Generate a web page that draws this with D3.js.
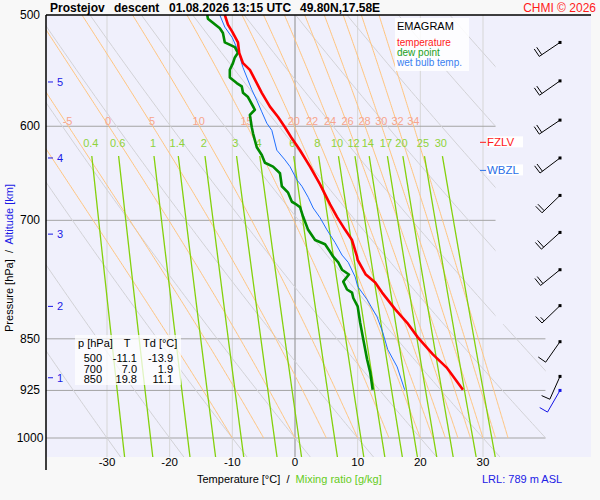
<!DOCTYPE html>
<html lang="cs">
<head>
<meta charset="UTF-8">
<title>Emagram Prostejov</title>
<script src="https://d3js.org/d3.v7.min.js"></script>
<style>
  body { margin: 0; background: #f8f8f8; }
  svg { display: block; font-family: Arial, "Liberation Sans", sans-serif; }
</style>
</head>
<body>
<div id="chart"></div>
<script>
// sounding values [pressure hPa, temperature °C]
const tempProfile = [
  [500, -11.2], [508, -10.7], [514, -10.0], [523, -9.1], [532, -8.9], [541, -8.3],
  [547, -7.2], [559, -6.1], [568, -5.3], [581, -4.0], [591, -2.7], [601, -1.6],
  [612, -0.5], [624, 0.8], [641, 2.4], [660, 4.0], [682, 5.6], [696, 6.7],
  [711, 8.0], [723, 9.1], [743, 9.9], [747, 10.0], [765, 11.3], [775, 12.8],
  [788, 13.9], [810, 16.0], [828, 17.9], [848, 19.6], [872, 22.0], [891, 24.2], [924, 26.8]
];
const dewProfile = [
  [500, -14.0], [503, -13.9], [506, -13.2], [511, -12.0], [515, -11.5], [523, -11.2],
  [527, -9.6], [532, -9.1], [536, -9.6], [541, -9.9], [547, -10.4], [554, -10.4],
  [559, -9.3], [562, -8.5], [568, -8.3], [572, -7.5], [584, -6.4], [589, -7.2],
  [601, -6.9], [607, -6.7], [621, -6.1], [629, -5.3], [637, -4.8], [641, -3.5],
  [648, -2.4], [662, -2.1], [669, -1.1], [679, -0.5], [681, 0.0], [685, 0.8],
  [696, 1.3], [711, 2.1], [723, 3.2], [728, 4.8], [737, 5.6], [743, 6.1],
  [750, 6.9], [759, 7.5], [765, 8.6], [774, 7.7], [784, 8.3], [788, 9.1],
  [795, 9.3], [806, 10.0], [828, 10.4], [851, 10.9], [879, 11.5], [898, 12.0], [924, 12.4]
];
const wetBulbProfile = [
  [500, -12.0], [510, -11.2], [519, -10.0], [530, -9.1], [545, -8.3], [565, -6.9],
  [575, -6.1], [586, -5.3], [597, -4.5], [604, -3.7], [624, -2.9], [634, -1.6],
  [641, -0.8], [655, 0.3], [662, 1.1], [674, 2.1], [686, 2.9], [697, 4.0],
  [711, 5.1], [726, 6.4], [741, 7.5], [750, 8.5], [768, 9.6], [780, 10.0],
  [797, 11.5], [820, 13.1], [841, 14.0], [865, 14.8], [890, 16.3], [924, 17.5]
];

// diagram background lines
const isobars = [600, 700, 850, 925, 1000];
const pressureTicks = [500, 600, 700, 850, 925, 1000];
const isotherms = [-30, -20, -10, 0, 10, 20, 30];
const dryAdiabats = d3.range(-30, 101, 10);             // theta at 1000 hPa [°C]
const pseudoAdiabats = [-10, -5, 0, 5, 10, 15, 20, 22, 24, 26, 28, 30, 32, 34];
const pseudoLabels = [-5, 0, 5, 10, 15, 20, 22, 24, 26, 28, 30, 32, 34];
const mixingRatios = [0.4, 0.6, 1, 1.4, 2, 3, 4, 6, 8, 10, 12, 14, 17, 20, 25, 30];

// altitude marks [km, hPa]
const altitudeKm = [1, 2, 3, 4, 5];
const altitudeP = [906, 806, 716, 632, 558];

// wind profile
const windP = [523, 557, 594, 632, 672, 714, 759, 805, 854, 904];
const windDir = [236, 235, 236, 233, 226, 228, 231, 226, 215, 204];
const windSpd = [20, 20, 20, 20, 20, 20, 20, 15, 10, 10];
const surfaceWind = { p: 925, dir: 210, spd: 10 };

// levels and table
const fzlvP = 616, wbzlP = 645;
const tableP = [500, 700, 850];
const tableT = [-11.1, 7.0, 19.8];
const tableTd = [-13.9, 1.9, 11.1];

const width = 600, height = 500;
const plot = { left: 46, right: 591, top: 15, bottom: 457 };

const x = d3.scaleLinear().domain([-30, 30]).range([107, 483]);
const y = d3.scaleLog().domain([500, 1000]).range([15, 438]);
const pBottom = y.invert(plot.bottom);

const svg = d3.select("#chart").append("svg").attr("width", width).attr("height", height);

svg.append("rect").attr("x", plot.left).attr("y", plot.top)
  .attr("width", plot.right - plot.left).attr("height", plot.bottom - plot.top)
  .attr("fill", "#f0f0fc");

// diagram region: narrower above ~830 hPa
const xUpper = x(32), xLower = x(40), yStep = y(830);
svg.append("clipPath").attr("id", "diagram").append("polygon")
  .attr("points", [[plot.left, plot.top], [xUpper, plot.top], [xUpper, yStep],
    [xLower, yStep], [xLower, plot.bottom], [plot.left, plot.bottom]].join(" "));

const grid = svg.append("g").attr("clip-path", "url(#diagram)");
const line = d3.line().x(d => x(d[1])).y(d => y(d[0]));

// thermodynamics for the background curves
const Rd = 287.04, cp = 1005.7, Lv = 2.501e6, eps = 0.622;
const es = tc => 6.112 * Math.exp(17.67 * tc / (tc + 243.5));
const rs = (tc, p) => { const e = es(tc); return eps * e / (p - e); };
function moistRate(tk, p) {
  const r = rs(tk - 273.15, p);
  return (Rd * tk + Lv * r) / (p * (cp + Lv * Lv * r * eps / (Rd * tk * tk)));
}
function pseudoLine(tw) {
  let t = tw + 273.15, p = 1000;
  const dp = -2, pts = [[p, tw]];
  while (p > 499) {
    const k1 = moistRate(t, p);
    const k2 = moistRate(t + k1 * dp, p + dp);
    t += 0.5 * (k1 + k2) * dp;
    p += dp;
    pts.push([p, t - 273.15]);
  }
  return pts;
}
function valueAt(pts, p) {
  for (let i = 1; i < pts.length; i++) {
    if ((pts[i - 1][0] - p) * (pts[i][0] - p) <= 0) {
      const f = (p - pts[i - 1][0]) / (pts[i][0] - pts[i - 1][0]);
      return pts[i - 1][1] + f * (pts[i][1] - pts[i - 1][1]);
    }
  }
  return pts[pts.length - 1][1];
}
const pLevels = (a, b, step) => d3.range(a, b - 0.01, -step).concat([b]);
function dryLine(th) {
  return pLevels(pBottom, 500, 5).map(p => [p, (th + 273.15) * Math.pow(p / 1000, 0.286) - 273.15]);
}
function mixTd(w, p) {
  const e = w / 1000 * p / (eps + w / 1000);
  const l = Math.log(e / 6.112);
  return 243.5 * l / (17.67 - l);
}
function mixLine(w) {
  return pLevels(pBottom, 630, 5).map(p => [p, mixTd(w, p)]);
}

// isotherms
grid.selectAll(".isotherm").data(isotherms).enter().append("line")
  .attr("x1", d => x(d)).attr("x2", d => x(d))
  .attr("y1", plot.top).attr("y2", plot.bottom)
  .attr("stroke", d => d === 0 ? "#8c8c8c" : "#d6d6d6").attr("stroke-width", 1);

// isobars
grid.selectAll(".isobar").data(isobars).enter().append("line")
  .attr("x1", plot.left).attr("x2", xLower)
  .attr("y1", d => y(d)).attr("y2", d => y(d))
  .attr("stroke", "#a4a4a4").attr("stroke-width", 1);

// dry adiabats
grid.selectAll(".dry").data(dryAdiabats).enter().append("path")
  .attr("d", d => line(dryLine(d)))
  .attr("fill", "none").attr("stroke", "#d2d2d6").attr("stroke-width", 1);

// pseudo adiabats
const pseudo = pseudoAdiabats.map(tw => ({ tw, pts: pseudoLine(tw) }));
grid.selectAll(".pseudo").data(pseudo).enter().append("path")
  .attr("d", d => line(d.pts))
  .attr("fill", "none").attr("stroke", "#ffc47e").attr("stroke-width", 1);

// mixing ratio lines
grid.selectAll(".mix").data(mixingRatios).enter().append("path")
  .attr("d", d => line(mixLine(d)))
  .attr("fill", "none").attr("stroke", "#84d10c").attr("stroke-width", 1.3);

// labels of pseudo adiabats and mixing ratio
const pPseudoLab = y.invert(125);
svg.append("g").selectAll("text").data(pseudo.filter(d => pseudoLabels.includes(d.tw))).enter()
  .append("text")
  .attr("x", d => x(valueAt(d.pts, pPseudoLab)))
  .attr("y", 125)
  .attr("text-anchor", "middle").attr("font-size", 11).attr("fill", "#f7a58c")
  .text(d => d.tw);

const pMixLab = y.invert(147);
svg.append("g").selectAll("text").data(mixingRatios).enter().append("text")
  .attr("x", d => x(mixTd(d, pMixLab)))
  .attr("y", 147)
  .attr("text-anchor", "middle").attr("font-size", 11).attr("fill", "#8fd33a")
  .text(d => d);

// sounding curves
svg.append("path").attr("d", line(wetBulbProfile))
  .attr("fill", "none").attr("stroke", "#1f6fff").attr("stroke-width", 1);
svg.append("path").attr("d", line(dewProfile))
  .attr("fill", "none").attr("stroke", "#008a00").attr("stroke-width", 2.6)
  .attr("stroke-linejoin", "round");
svg.append("path").attr("d", line(tempProfile))
  .attr("fill", "none").attr("stroke", "#ff0000").attr("stroke-width", 2.6)
  .attr("stroke-linejoin", "round");

// axes frame
svg.append("line").attr("x1", plot.left).attr("x2", plot.right)
  .attr("y1", plot.top).attr("y2", plot.top).attr("stroke", "#000").attr("stroke-width", 1.5);
svg.append("line").attr("x1", plot.left).attr("x2", plot.left)
  .attr("y1", plot.top).attr("y2", 470).attr("stroke", "#000").attr("stroke-width", 1.5);

// pressure ticks
svg.append("g").selectAll("text").data(pressureTicks).enter().append("text")
  .attr("x", 30).attr("y", d => y(d) + 4)
  .attr("text-anchor", "middle").attr("font-size", 12).attr("fill", "#000")
  .text(d => d);

// temperature ticks
svg.append("g").selectAll("text").data(isotherms).enter().append("text")
  .attr("x", d => x(d)).attr("y", 466)
  .attr("text-anchor", "middle").attr("font-size", 11.5).attr("fill", "#000")
  .text(d => d);

// altitude marks
const alt = svg.append("g").attr("fill", "#1a1ae6").attr("font-size", 11);
alt.selectAll("line").data(altitudeP).enter().append("line")
  .attr("x1", 48).attr("x2", 53).attr("y1", d => y(d)).attr("y2", d => y(d))
  .attr("stroke", "#1a1ae6").attr("stroke-width", 1);
alt.selectAll("text").data(altitudeKm).enter().append("text")
  .attr("x", 57).attr("y", (d, i) => y(altitudeP[i]) + 4)
  .text(d => d);

// FZLV / WBZL
function levelMark(p, label, color) {
  const yy = y(p);
  svg.append("line").attr("x1", 480).attr("x2", 486).attr("y1", yy).attr("y2", yy)
    .attr("stroke", color).attr("stroke-width", 1);
  svg.append("rect").attr("x", 487).attr("y", yy - 6).attr("width", 36).attr("height", 11)
    .attr("fill", "#fff");
  svg.append("text").attr("x", 487).attr("y", yy + 4).attr("font-size", 11.5)
    .attr("fill", color).text(label);
}
levelMark(fzlvP, "FZLV", "#ff1a1a");
levelMark(wbzlP, "WBZL", "#2a6fe8");

// wind barbs
function barb(yy, dir, spd, color) {
  const g = svg.append("g").attr("stroke", color).attr("stroke-width", 1).attr("fill", "none");
  const sx = 560, len = 25;
  const a = dir * Math.PI / 180;
  const ux = Math.sin(a), uy = -Math.cos(a);
  const ex = sx + ux * len, ey = yy + uy * len;
  g.append("line").attr("x1", sx).attr("y1", yy).attr("x2", ex).attr("y2", ey);
  const fx = -uy, fy = ux;   // staff turned by 90 degrees
  let pos = len, rest = spd;
  while (rest >= 10) {
    const bx = sx + ux * pos, by = yy + uy * pos;
    g.append("line").attr("x1", bx).attr("y1", by).attr("x2", bx + fx * 9).attr("y2", by + fy * 9);
    pos -= 3; rest -= 10;
  }
  if (rest >= 5) {
    const bx = sx + ux * pos, by = yy + uy * pos;
    g.append("line").attr("x1", bx).attr("y1", by).attr("x2", bx + fx * 5).attr("y2", by + fy * 5);
  }
  svg.append("rect").attr("x", sx - 1.5).attr("y", yy - 1.5).attr("width", 3).attr("height", 3)
    .attr("fill", color);
}
windP.forEach((p, i) => barb(y(p), windDir[i], windSpd[i], "#000"));
barb(y(surfaceWind.p), surfaceWind.dir, surfaceWind.spd, "#1414e6");

// legend
svg.append("rect").attr("x", 395).attr("y", 18).attr("width", 74).attr("height", 53)
  .attr("fill", "#fff").attr("fill-opacity", 0.85);
svg.append("text").attr("x", 397).attr("y", 30).attr("font-size", 11).attr("fill", "#000").text("EMAGRAM");
const legendItems = [["temperature", "#ff1a1a"], ["dew point", "#22a022"], ["wet bulb temp.", "#3a7ff0"]];
svg.append("g").selectAll("text").data(legendItems).enter().append("text")
  .attr("x", 397).attr("y", (d, i) => 46 + i * 10)
  .attr("font-size", 10).attr("fill", d => d[1]).text(d => d[0]);

// value table
svg.append("rect").attr("x", 75).attr("y", 335).attr("width", 106).attr("height", 50)
  .attr("fill", "#fff").attr("fill-opacity", 0.75);
const tbl = svg.append("g").attr("font-size", 11).attr("fill", "#000");
tbl.append("text").attr("x", 78).attr("y", 347).text("p [hPa]");
tbl.append("text").attr("x", 127).attr("y", 347).attr("text-anchor", "middle").text("T");
tbl.append("text").attr("x", 143).attr("y", 347).text("Td [°C]");
tableP.forEach((p, i) => {
  const yy = 362 + i * 10.5;
  tbl.append("text").attr("x", 102).attr("y", yy).attr("text-anchor", "end").text(p);
  tbl.append("text").attr("x", 137).attr("y", yy).attr("text-anchor", "end").text(tableT[i].toFixed(1));
  tbl.append("text").attr("x", 173).attr("y", yy).attr("text-anchor", "end").text(tableTd[i].toFixed(1));
});

// titles
const title = svg.append("g").attr("font-size", 12).attr("font-weight", "bold").attr("fill", "#000");
title.append("text").attr("x", 50).attr("y", 12).text("Prostejov");
title.append("text").attr("x", 114).attr("y", 12).text("descent");
title.append("text").attr("x", 169).attr("y", 12).text("01.08.2026 13:15 UTC");
title.append("text").attr("x", 300).attr("y", 12).text("49.80N,17.58E");
svg.append("text").attr("x", 596).attr("y", 12).attr("text-anchor", "end")
  .attr("font-size", 12).attr("fill", "#ff1a1a").text("CHMI © 2026");

const xTitle = svg.append("text").attr("x", 197).attr("y", 483).attr("font-size", 11)
  .attr("xml:space", "preserve");
xTitle.append("tspan").attr("fill", "#000").text("Temperature [°C]  /  ");
xTitle.append("tspan").attr("fill", "#66cc22").text("Mixing ratio [g/kg]");

svg.append("text").attr("x", 482).attr("y", 483).attr("font-size", 11)
  .attr("fill", "#2020e6").text("LRL: 789 m ASL");

const yTitle = svg.append("text").attr("transform", "translate(13,258) rotate(-90)")
  .attr("text-anchor", "middle").attr("font-size", 11).attr("xml:space", "preserve");
yTitle.append("tspan").attr("fill", "#000").text("Pressure [hPa]  /  ");
yTitle.append("tspan").attr("fill", "#1a1ae6").text("Altitude [km]");
</script>
</body>
</html>
